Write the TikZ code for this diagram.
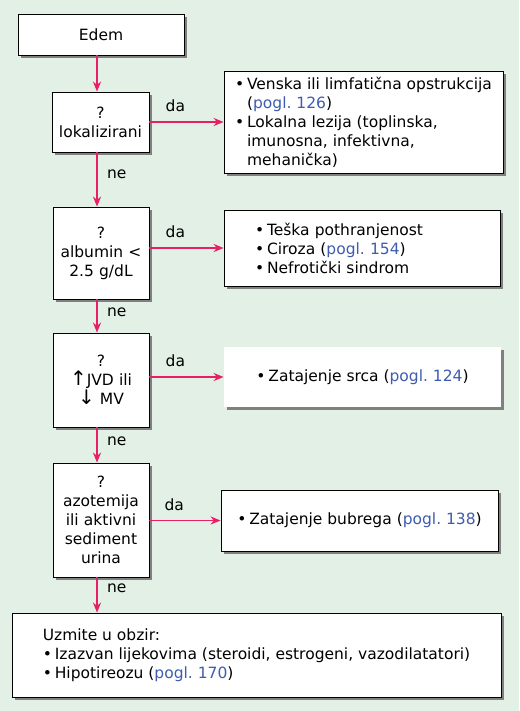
\documentclass[tikz,border=0pt]{standalone}
\usepackage{fontspec}
\setmainfont{DejaVu Sans}
\usetikzlibrary{arrows.meta,positioning,shadows}
\definecolor{bgGreen}{RGB}{226,240,229}
\definecolor{arrowPink}{RGB}{232,30,104}
\definecolor{refBlue}{RGB}{62,92,176}
\frenchspacing
\newcommand{\pogl}[1]{(\textcolor{refBlue}{pogl.\ #1})}
\newcommand{\bul}{\makebox[12pt][l]{•}}
\tikzset{
  box/.style={draw=black, fill=white, line width=0.8pt, inner sep=0pt,
    drop shadow={shadow xshift=3pt, shadow yshift=-3pt, fill=black!50, opacity=1}},
  qbox/.style={box, align=center, text width=94pt},
  flow/.style={draw=arrowPink, line width=1.6pt, -{Stealth[length=10pt,width=8pt]}},
  lbl/.style={font=\fontsize{15.5}{17}\selectfont}
}
\begin{document}
\begin{tikzpicture}[x=1pt, y=-1pt, font=\fontsize{15.5}{19}\selectfont]
  \fill[bgGreen] (0,0) rectangle (519,711);
  \useasboundingbox (0,0) rectangle (519,711);
  % Questions
  \node[box, minimum width=166pt, minimum height=41pt] (edem) at (101,34.5) {Edem};
  \node[qbox, minimum width=97pt, minimum height=60pt] (lok) at (100.5,122) {?\\lokalizirani};
  \node[qbox, minimum width=96pt, minimum height=92pt] (alb) at (101,253) {?\\albumin <\\2.5 g/dL};
  \node[qbox, minimum width=96pt, minimum height=94pt] (jvd) at (101,380)
    {?\\{\fontsize{20}{19}\selectfont↑}JVD ili\\{\fontsize{20}{19}\selectfont↓} MV};
  \node[qbox, minimum width=96pt, minimum height=114pt] (azo) at (101,520)
    {?\\azotemija\\ili aktivni\\sediment\\urina};
  % Answers
  \node[box, minimum width=279pt, minimum height=102pt, align=left] (venska) at (363.5,122)
    {\bul Venska ili limfatična opstrukcija\\\hspace*{12pt}\pogl{126}\\
     \bul Lokalna lezija (toplinska,\\\hspace*{12pt}imunosna, infektivna,\\\hspace*{12pt}mehanička)};
  \node[box, minimum width=276pt, minimum height=76pt, text width=214pt, align=left] (teska) at (362,248)
    {\bul Teška pothranjenost\\\bul Ciroza \pogl{154}\\\bul Nefrotički sindrom};
  \node[box, draw=none, minimum width=277pt, minimum height=60pt] (srce) at (362.5,377)
    {\bul Zatajenje srca \pogl{124}};
  \node[box, minimum width=277pt, minimum height=61pt] (bubreg) at (359.5,520.5)
    {\bul Zatajenje bubrega \pogl{138}};
  \node[box, minimum width=489pt, minimum height=84pt, align=left] (obzir) at (256.5,655)
    {Uzmite u obzir:\\\bul Izazvan lijekovima (steroidi, estrogeni, vazodilatatori)\\\bul Hipotireozu \pogl{170}};
  % Connectors
  \coordinate (col) at (97,0);
  \draw[flow] (edem.south -| col) -- (lok.north -| col);
  \draw[flow] (lok.south -| col) -- node[lbl, right=6pt, pos=0.4] {ne} (alb.north -| col);
  \draw[flow] (alb.south -| col) -- node[lbl, right=6pt, pos=0.4] {ne} (jvd.north -| col);
  \draw[flow] (jvd.south -| col) -- node[lbl, right=6pt, pos=0.4] {ne} (azo.north -| col);
  \draw[flow] (azo.south -| col) -- node[lbl, right=6pt, pos=0.3] {ne} (obzir.north -| col);
  \draw[flow] (lok.east |- venska) -- node[lbl, above=6pt, pos=0.35] {da} (venska.west);
  \draw[flow] (alb.east |- teska) -- node[lbl, above=6pt, pos=0.35] {da} (teska.west);
  \draw[flow] (jvd.east |- srce) -- node[lbl, above=6pt, pos=0.35] {da} (srce.west);
  \draw[flow] (azo.east |- bubreg) -- node[lbl, above=6pt, pos=0.35] {da} (bubreg.west);
\end{tikzpicture}
\end{document}
